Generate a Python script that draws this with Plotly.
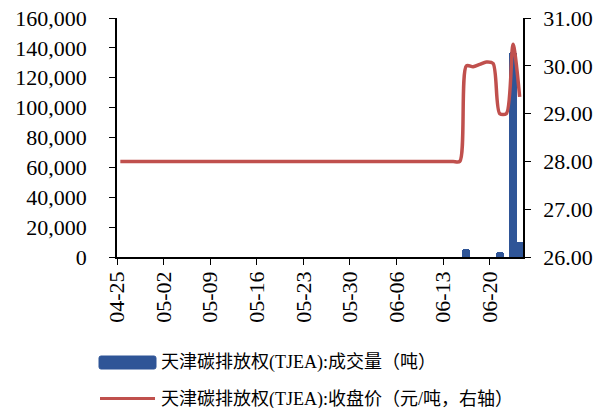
import plotly.graph_objects as go
import pandas as pd

# ---------------- data ----------------
price_dates = pd.date_range("2022-04-25", "2022-06-24", freq="D").strftime("%Y-%m-%d").tolist()
close_price = [
    28.00, 28.00, 28.00, 28.00, 28.00, 28.00,            # 04-25 .. 04-30
    28.00, 28.00, 28.00, 28.00, 28.00, 28.00, 28.00,     # 05-01 .. 05-07
    28.00, 28.00, 28.00, 28.00, 28.00, 28.00, 28.00,     # 05-08 .. 05-14
    28.00, 28.00, 28.00, 28.00, 28.00, 28.00, 28.00,     # 05-15 .. 05-21
    28.00, 28.00, 28.00, 28.00, 28.00, 28.00, 28.00,     # 05-22 .. 05-28
    28.00, 28.00, 28.00, 28.00, 28.00, 28.00, 28.00,     # 05-29 .. 06-04
    28.00, 28.00, 28.00, 28.00, 28.00, 28.00, 28.00,     # 06-05 .. 06-11
    28.00, 28.00, 28.00, 28.00,                          # 06-12 .. 06-15
    30.00, 29.98, 30.03, 30.08, 30.05,                   # 06-16 .. 06-20
    29.00, 29.00, 30.45, 29.35,                          # 06-21 .. 06-24
]
volume_dates = ["2022-06-16", "2022-06-21", "2022-06-23", "2022-06-24"]
volume = [5500, 3500, 137000, 10000]

tick_dates = ["2022-04-25", "2022-05-02", "2022-05-09", "2022-05-16", "2022-05-23",
              "2022-05-30", "2022-06-06", "2022-06-13", "2022-06-20"]
tick_labels = ["04-25", "05-02", "05-09", "05-16", "05-23", "05-30", "06-06", "06-13", "06-20"]

name_vol = "天津碳排放权(TJEA):成交量（吨）"
name_px = "天津碳排放权(TJEA):收盘价（元/吨，右轴）"

BLUE = "#2F5597"
RED = "#C0504D"
FONT = "Liberation Serif, Times New Roman, Noto Sans CJK SC, serif"

W, H = 603, 408
L, R, T, B = 117, 80, 18, 151
PW, PH = W - L - R, H - T - B


def px(x):
    return (x - L) / PW


def py(y):
    return (H - B - y) / PH


fig = go.Figure()
fig.add_trace(go.Bar(
    x=volume_dates, y=volume, name=name_vol,
    marker=dict(color=BLUE, cornerradius=3, line=dict(width=0)),
    width=1.2 * 86400000,
    xperiod=86400000, xperiodalignment="middle",
    showlegend=False,
))
fig.add_trace(go.Scatter(
    x=price_dates, y=close_price, name=name_px, yaxis="y2",
    mode="lines", line=dict(color=RED, width=3.5, shape="spline", smoothing=0.8),
    xperiod=86400000, xperiodalignment="middle",
    showlegend=False,
))

# manual legend (wide symbols as in the reference)
fig.add_shape(type="path", xref="paper", yref="paper",
              path=(f"M {px(101)},{py(356)} L {px(154)},{py(356)} "
                    f"Q {px(156)},{py(356)} {px(156)},{py(358)} L {px(156)},{py(367)} "
                    f"Q {px(156)},{py(369)} {px(154)},{py(369)} L {px(101)},{py(369)} "
                    f"Q {px(99)},{py(369)} {px(99)},{py(367)} L {px(99)},{py(358)} "
                    f"Q {px(99)},{py(356)} {px(101)},{py(356)} Z"),
              fillcolor=BLUE, line=dict(color=BLUE, width=1))
fig.add_shape(type="line", xref="paper", yref="paper",
              x0=px(100), x1=px(155), y0=py(398.5), y1=py(398.5),
              line=dict(color=RED, width=3))
fig.add_annotation(text=name_vol, xref="paper", yref="paper", x=px(159), y=py(362.5),
                   xanchor="left", yanchor="middle", showarrow=False,
                   font=dict(family=FONT, size=18, color="black"))
fig.add_annotation(text=name_px, xref="paper", yref="paper", x=px(159), y=py(400),
                   xanchor="left", yanchor="middle", showarrow=False,
                   font=dict(family=FONT, size=18, color="black"))

fig.update_layout(
    width=W, height=H,
    margin=dict(l=L, r=R, t=T, b=B, pad=0, autoexpand=False),
    paper_bgcolor="white", plot_bgcolor="white",
    font=dict(family=FONT, size=22, color="black"),
    bargap=0,
    xaxis=dict(
        type="date", range=["2022-04-25", "2022-06-25"], automargin=False,
        tickmode="array", tickvals=tick_dates, ticktext=tick_labels,
        tickangle=-90, ticks="outside", ticklen=6, tickcolor="black",
        showline=True, linecolor="black", linewidth=1.5,
        showgrid=False, zeroline=False, ticklabelstandoff=-2,
    ),
    yaxis=dict(
        range=[0, 160000], dtick=20000, tickformat=",", automargin=False,
        ticks="outside", ticklen=6, tickcolor="black",
        showline=True, linecolor="black", linewidth=1.5,
        showgrid=False, zeroline=False, ticklabelstandoff=18,
    ),
    yaxis2=dict(
        range=[26, 31], dtick=1, tickformat=".2f", overlaying="y", side="right",
        automargin=False,
        ticks="outside", ticklen=6, tickcolor="black",
        showline=True, linecolor="black", linewidth=1.5,
        showgrid=False, zeroline=False, ticklabelstandoff=8,
    ),
)

fig.write_html("out.html", config={"displayModeBar": False},
               post_script="document.body.style.margin='0';")
